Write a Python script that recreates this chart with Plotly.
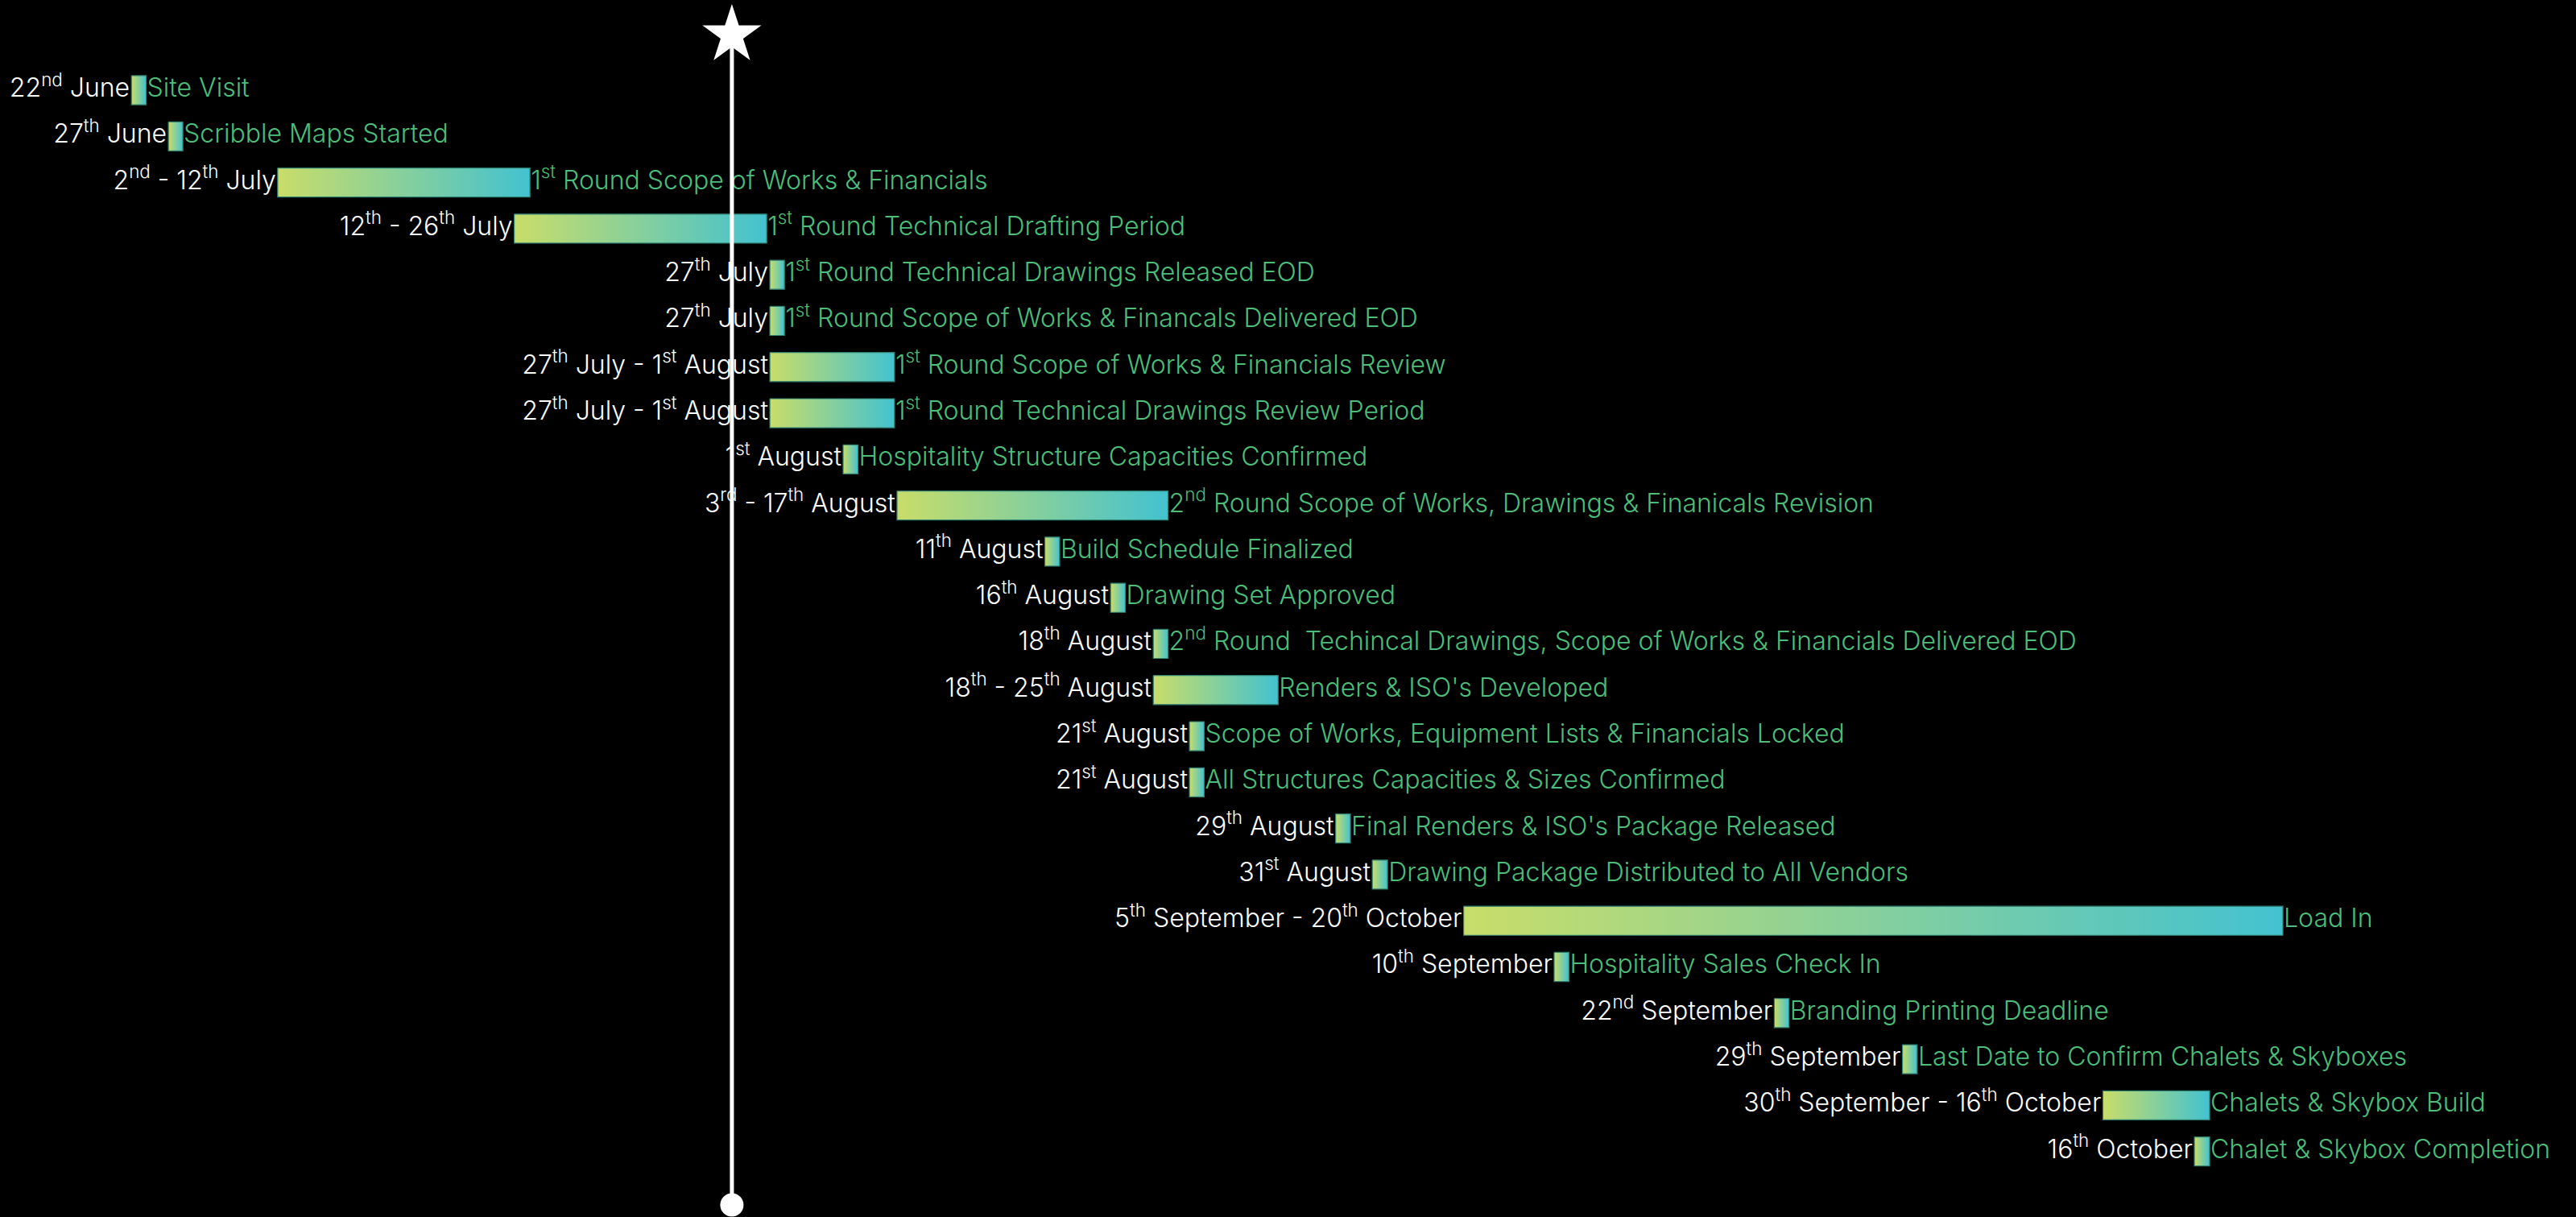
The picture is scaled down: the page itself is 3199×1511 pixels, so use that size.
import plotly.graph_objects as go

# ---- data ----
date_labels = [
    "22<sup>nd</sup> June", "27<sup>th</sup> June", "2<sup>nd</sup> - 12<sup>th</sup> July",
    "12<sup>th</sup> - 26<sup>th</sup> July", "27<sup>th</sup> July", "27<sup>th</sup> July",
    "27<sup>th</sup> July - 1<sup>st</sup> August", "27<sup>th</sup> July - 1<sup>st</sup> August",
    "1<sup>st</sup> August", "3<sup>rd</sup> - 17<sup>th</sup> August", "11<sup>th</sup> August",
    "16<sup>th</sup> August", "18<sup>th</sup> August", "18<sup>th</sup> - 25<sup>th</sup> August",
    "21<sup>st</sup> August", "21<sup>st</sup> August", "29<sup>th</sup> August",
    "31<sup>st</sup> August", "5<sup>th</sup> September - 20<sup>th</sup> October",
    "10<sup>th</sup> September", "22<sup>nd</sup> September", "29<sup>th</sup> September",
    "30<sup>th</sup> September - 16<sup>th</sup> October", "16<sup>th</sup> October",
]
task_labels = [
    "Site Visit", "Scribble Maps Started",
    "1<sup>st</sup> Round Scope of Works & Financials",
    "1<sup>st</sup> Round Technical Drafting Period",
    "1<sup>st</sup> Round Technical Drawings Released EOD",
    "1<sup>st</sup> Round Scope of Works & Financals Delivered EOD",
    "1<sup>st</sup> Round Scope of Works & Financials Review",
    "1<sup>st</sup> Round Technical Drawings Review Period",
    "Hospitality Structure Capacities Confirmed",
    "2<sup>nd</sup> Round Scope of Works, Drawings & Finanicals Revision",
    "Build Schedule Finalized", "Drawing Set Approved",
    "2<sup>nd</sup> Round  Techincal Drawings, Scope of Works & Financials Delivered EOD",
    "Renders & ISO's Developed",
    "Scope of Works, Equipment Lists & Financials Locked",
    "All Structures Capacities & Sizes Confirmed",
    "Final Renders & ISO's Package Released",
    "Drawing Package Distributed to All Vendors",
    "Load In", "Hospitality Sales Check In", "Branding Printing Deadline",
    "Last Date to Confirm Chalets & Skyboxes", "Chalets & Skybox Build",
    "Chalet & Skybox Completion",
]
# bar start / end in timeline units (as laid out in the reference)
bar_start = [80, 102.5, 169, 313, 468.6, 468.6, 468.6, 468.6, 513.2, 546, 636, 676,
             702, 702, 724, 724, 813, 835.3, 890.9, 946, 1080, 1158, 1280, 1335.7]
bar_end = [89, 111.3, 322.6, 466.7, 477.5, 477.5, 544.5, 544.5, 522.3, 711, 645, 685,
           711, 778, 733, 733, 822, 844.6, 1389.6, 955, 1089, 1167, 1345, 1345]
today_x = 445.5

# ---- styling ----
FONT = "Inter"
WHITE = "#ffffff"
GREEN = "#4cbe78"
GRAD = [[0, "#c9dd69"], [1, "#43c2d0"]]
BAR_HALF = 0.315
FS = 32

rows = list(range(len(task_labels)))
fig = go.Figure()

for i, (s, e) in enumerate(zip(bar_start, bar_end)):
    fig.add_trace(go.Scatter(
        x=[s, e, e, s, s],
        y=[i - BAR_HALF, i - BAR_HALF, i + BAR_HALF, i + BAR_HALF, i - BAR_HALF],
        mode="lines", fill="toself",
        fillgradient=dict(type="horizontal", colorscale=GRAD),
        line=dict(color="#2f7f70", width=1.2),
        hoverinfo="skip", showlegend=False,
    ))

fig.add_trace(go.Scatter(
    x=[s - 1 for s in bar_start], y=rows, mode="text", text=date_labels,
    textposition="middle left", cliponaxis=False,
    textfont=dict(family=FONT, size=FS, color=WHITE, weight=300),
    hoverinfo="skip", showlegend=False,
))
fig.add_trace(go.Scatter(
    x=[e + 0.5 for e in bar_end], y=rows, mode="text", text=task_labels,
    textposition="middle right", cliponaxis=False,
    textfont=dict(family=FONT, size=FS, color=GREEN, weight=300),
    hoverinfo="skip", showlegend=False,
))

# "today" marker line with star on top and dot at the bottom
fig.add_trace(go.Scatter(
    x=[today_x, today_x], y=[-1.196, 24.16], mode="lines",
    line=dict(color=WHITE, width=5),
    cliponaxis=False, hoverinfo="skip", showlegend=False,
))
fig.add_trace(go.Scatter(
    x=[today_x, today_x], y=[-1.196, 24.16], mode="markers",
    marker=dict(symbol=["star", "circle"], size=[55, 29], color="#ffffff",
                opacity=1, line=dict(width=0)),
    cliponaxis=False, hoverinfo="skip", showlegend=False,
))

fig.update_layout(
    width=3199, height=1511,
    margin=dict(l=0, r=0, t=0, b=0),
    paper_bgcolor="black", plot_bgcolor="black",
    xaxis=dict(visible=False, range=[0, 1568], fixedrange=True),
    yaxis=dict(visible=False, range=[24.42, -1.955], fixedrange=True),
    showlegend=False,
)

fig.write_html("out.html", config={"displayModeBar": False},
               post_script="document.body.style.margin='0';document.body.style.overflow='hidden';document.body.style.background='black';")
